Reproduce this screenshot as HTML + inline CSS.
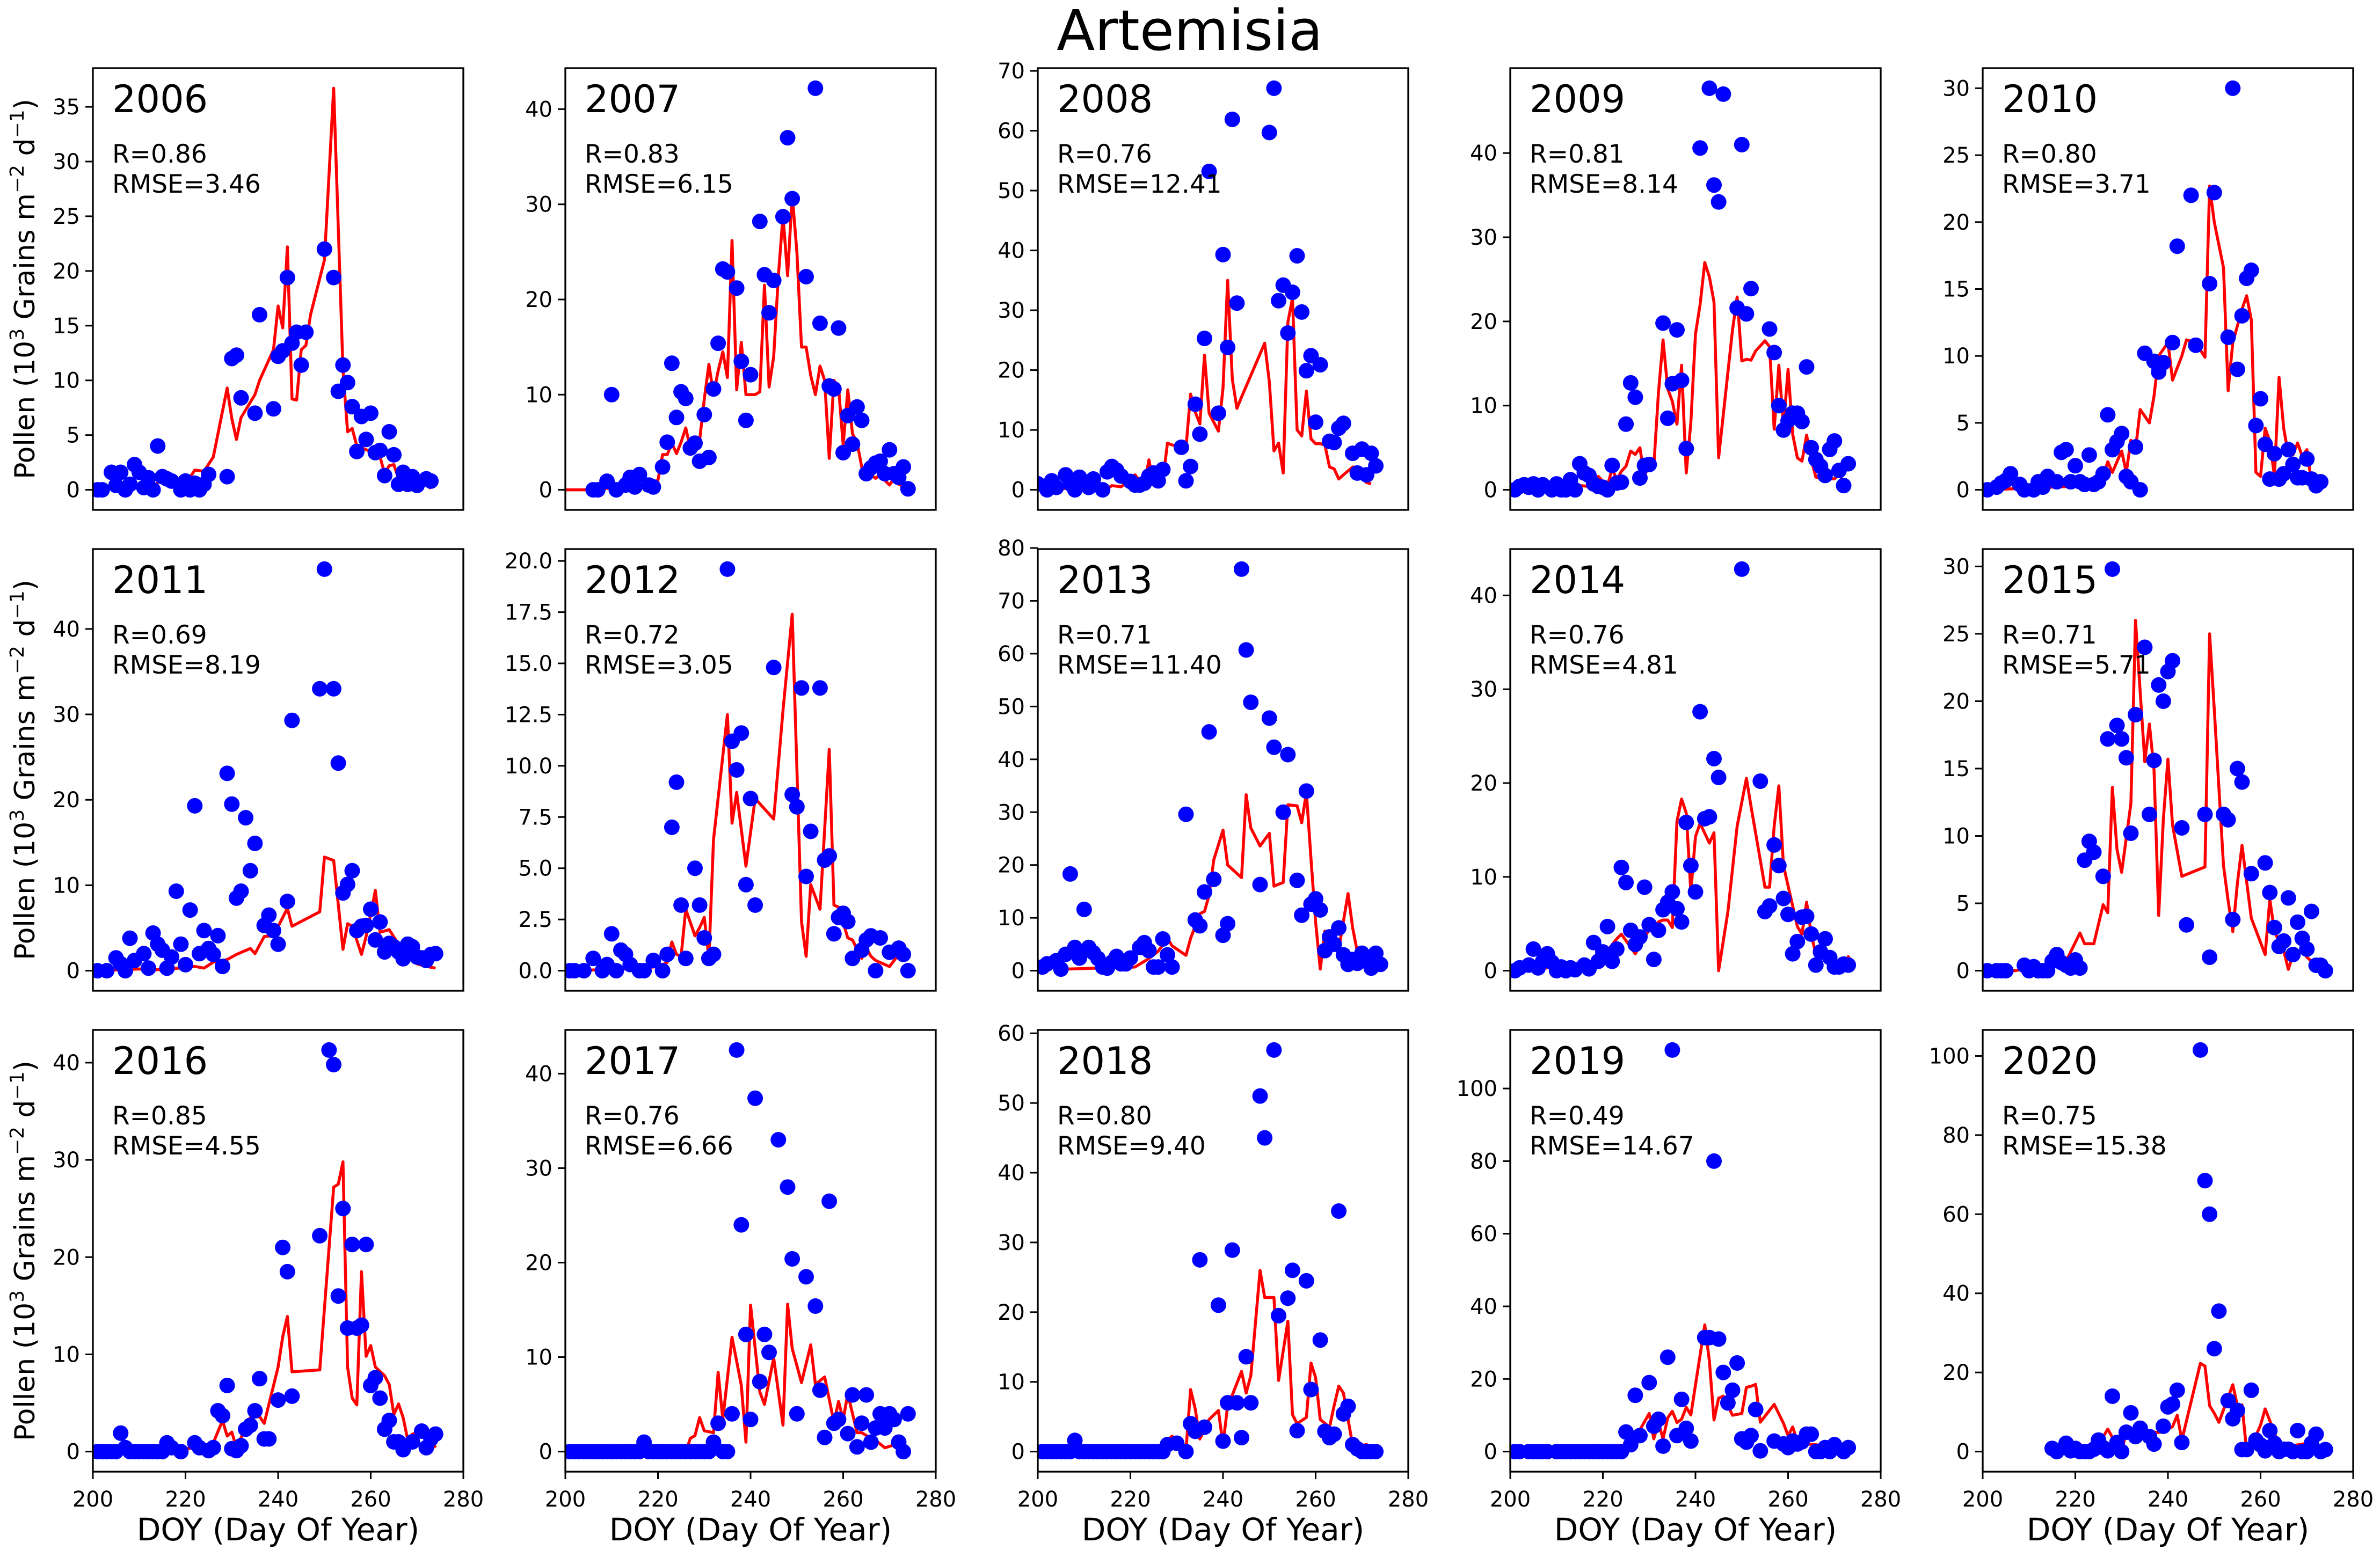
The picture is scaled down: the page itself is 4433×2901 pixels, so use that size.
<!DOCTYPE html>
<html>
<head>
<meta charset="utf-8">
<style>
html,body{margin:0;padding:0;background:#fff;}
svg{display:block;font-family:"DejaVu Sans","Liberation Sans",sans-serif;}
</style>
</head>
<body>
<svg id="chart" width="4433" height="2901" viewBox="0 0 4433 2901" xmlns="http://www.w3.org/2000/svg">
<rect x="0" y="0" width="4433" height="2901" fill="#fff"/>
<text x="2216" y="93" font-size="104" text-anchor="middle" fill="#000">Artemisia</text>
</svg>
<script>
// ---- data (DOY, pollen 10^3 grains m^-2 d^-1) ----
const obsDays2006=[201,202,204,205,206,207,208,209,210,211,212,213,214,215,216,217,219,220,221,222,223,224,225,229,230,231,232,235,236,239,240,241,242,243,244,245,246,250,252,253,254,255,256,257,258,259,260,261,262,263,264,265,266,267,268,269,270,272,273];
const obsVals2006=[0,0,1.6,0.4,1.6,0,0.5,2.3,1.6,0.2,1.1,0,4,1.2,1.0,0.8,0,0.8,0,0.6,0,0.5,1.4,1.2,12,12.3,8.4,7,16,7.4,12.2,12.7,19.4,13.4,14.4,11.4,14.4,22,19.4,9,11.4,9.8,7.6,3.5,6.7,4.6,7,3.4,3.6,1.3,5.3,3.2,0.5,1.6,0.5,1.2,0.4,1.0,0.8];
const modDays2006=[201,210,213,215,220,222,224,226,229,230,231,232,235,236,239,240,241,242,243,244,245,246,247,250,252,254,255,256,257,260,262,263,264,265,266,270,272,273];
const modVals2006=[0,0.5,0.3,1.0,0.5,1.8,1.7,3,9.3,6.5,4.6,6.6,8.7,10,12.8,16.8,14.8,22.2,8.3,8.2,12.8,13.2,16,21,36.7,11,5.3,5.6,4,3.5,3.0,1.5,2.2,2.3,1.0,0.8,0.5,0.1];

const obsDays2007=[206,207,209,210,211,213,214,215,216,218,219,221,222,223,224,225,226,227,228,229,230,231,232,233,234,235,237,238,239,240,242,243,244,245,247,248,249,252,254,255,257,258,259,260,261,262,263,264,265,266,267,268,269,270,271,272,273,274];
const obsVals2007=[0,0,0.9,10,0,0.5,1.3,0.3,1.6,0.5,0.3,2.4,5,13.3,7.6,10.3,9.6,4.4,4.9,3,7.9,3.4,10.6,15.4,23.2,22.9,21.2,13.5,7.3,12.1,28.2,22.6,18.6,22,28.7,37,30.6,22.4,42.2,17.5,10.9,10.6,17,3.9,7.8,4.8,8.7,7.3,1.7,2.3,2.8,3,1.7,4.2,1.7,1.3,2.4,0.1];
const modDays2007=[200,206,210,215,219,220,221,222,223,224,225,226,227,228,229,230,231,232,233,234,235,236,237,238,239,240,241,242,243,244,245,246,247,248,249,250,251,252,253,254,255,256,257,258,259,260,261,262,263,264,265,266,267,268,269,270,271,272,273];
const modVals2007=[0,0,0.2,0.5,0.8,1.0,3.7,3.7,4.9,3.8,5,6.5,4.3,5.5,5.2,9.5,13.2,10,12.5,14.5,11.8,26.2,10.5,15.5,10,10,10,10.3,21.5,10.8,14,22.5,28.8,22.5,31,25,15,15,12,10,13,11.5,3.3,11.5,10.8,4.7,10.5,5.9,5,2.4,1.2,1.6,1.2,1.6,1.0,0.5,1.2,0.6,0.3];

const obsDays2008=[200,202,203,204,206,207,208,209,211,212,214,215,216,217,218,220,221,222,223,224,225,226,227,231,232,233,234,235,236,237,239,240,241,242,243,250,251,252,253,254,255,256,257,258,259,260,261,263,264,265,266,268,269,270,271,272,273];
const obsVals2008=[1,0,1.5,0.4,2.5,1,0,2.1,0.4,1.8,0,3,3.9,3.3,2.3,1.4,0.8,0.8,1.1,2.3,2.8,1.5,3.4,7.1,1.5,3.9,14.3,9.3,25.3,53.2,12.8,39.3,23.8,61.9,31.2,59.7,67.1,31.6,34.2,26.2,33,39.1,29.7,19.9,22.4,11.3,20.9,8.1,7.9,10.3,11.1,6.1,2.8,6.8,2.5,6.1,4];
const modDays2008=[201,205,210,214,215,216,218,220,221,222,223,224,225,227,228,229,230,231,232,233,234,235,236,237,238,239,240,241,242,243,244,249,250,251,252,253,254,255,256,257,258,259,260,261,262,263,264,265,266,268,269,270,271,272];
const modVals2008=[0.5,0.2,0.3,0.5,0.2,0.7,0.5,1.8,2.5,1.5,0.8,5,1,1.5,7.8,7.5,7.3,7.1,7,16,13,11,22.5,12.8,11.3,9.8,17,35,18.5,13.6,15.5,24.5,18,6.5,7.8,2.8,28,32,10,9,16.5,8.5,7.7,7.7,7.5,3.8,3.5,1.8,2.5,3.8,3.8,2,1.2,1];

const obsDays2009=[201,202,203,204,205,206,207,209,210,211,212,213,214,215,216,217,218,219,220,221,222,223,224,225,226,227,228,229,230,233,234,235,236,237,238,241,243,244,245,246,249,250,251,252,256,257,258,259,260,261,262,263,264,265,266,267,268,269,270,271,272,273];
const obsVals2009=[0,0.4,0.6,0.3,0.7,0,0.6,0,0.7,0,0,1.2,0,3.1,2,1.7,0.7,0.4,0.3,0,2.9,0.8,0.9,7.8,12.7,11,1.4,2.9,3,19.8,8.5,12.6,19,13,4.9,40.6,47.7,36.2,34.2,47,21.6,41,20.9,23.9,19.1,16.3,10,7.1,8.2,9.1,9.1,8.1,14.6,5,3.6,2.8,1.7,4.8,5.8,2.3,0.5,3.1];
const modDays2009=[201,210,214,215,217,218,219,220,221,222,223,224,225,226,227,228,229,230,231,232,233,234,235,236,237,238,239,240,241,242,243,244,245,248,249,250,251,252,253,255,256,257,258,259,260,261,262,263,264,265,266,268,270,271,272];
const modVals2009=[0,0.2,0.2,0.5,0.4,0.5,1.6,1,0.5,2.5,1.2,2.2,2.8,4.6,4.2,5,1.5,3.5,2.8,11.5,17.8,12,10.5,7.8,14.8,2,8,18.5,22,27,25.3,22.3,3.8,19,22.9,15.3,15.5,15.4,16.5,17.7,17,7.2,14.8,7.5,14.3,6.6,3.8,3.4,6.5,3.6,1.5,1.3,1.3,1.8,1];

const obsDays2010=[201,203,204,205,206,208,209,211,212,213,214,216,217,218,219,220,221,222,223,224,225,226,227,228,229,230,231,232,233,234,235,237,238,239,241,242,245,246,249,250,253,254,255,256,257,258,259,260,261,262,263,264,265,266,267,268,269,270,271,272,273];
const obsVals2010=[0,0.2,0.5,0.7,1.2,0.4,0,0,0.6,0.2,1.0,0.6,2.8,3.0,0.6,1.8,0.6,0.4,2.6,0.4,0.6,1.2,5.6,3,3.6,4.2,1.0,0.6,3.2,0,10.2,9.6,8.8,9.5,11,18.2,22,10.8,15.4,22.2,11.4,30,9,13,15.8,16.4,4.8,6.8,3.4,0.8,2.7,0.8,1.2,3.0,1.9,0.9,0.9,2.3,0.8,0.3,0.6];
const modDays2010=[201,215,222,226,227,228,230,231,232,233,234,236,237,238,240,241,243,244,246,248,249,250,252,253,254,256,257,258,259,260,261,262,263,264,265,266,267,268,269,270,271];
const modVals2010=[0,0.2,0.3,1,2.1,1.3,2.9,1.3,3.7,3,6,5,7,10,11,8.2,10,11.2,11,9.9,22.7,20,16.6,7.4,11,13.5,14.5,12.7,1.3,1,4.6,3.6,1,8.4,4.6,2.6,2.6,3.5,2.5,3,0.5];

const obsDays2011=[201,203,205,206,207,208,209,211,212,213,214,215,216,217,218,219,220,221,222,223,224,225,226,227,228,229,230,231,232,233,234,235,237,238,239,240,242,243,249,250,252,253,254,255,256,257,258,259,260,261,262,263,264,265,266,267,268,269,270,271,272,273,274];
const obsVals2011=[0,0,1.5,0.8,0,3.8,1.2,2,0.3,4.4,3.1,2.4,0.3,1.6,9.3,3.1,0.7,7.1,19.3,2,4.7,2.6,1.9,4.1,0.5,23.1,19.5,8.5,9.3,17.9,11.7,14.9,5.3,6.5,4.7,3.1,8.1,29.3,33,47,33,24.3,9.1,10.1,11.7,4.7,5.2,5.3,7.2,3.6,5.7,2.2,3.2,2.8,2.2,1.4,3.1,2.8,1.6,1.5,1.2,1.9,2.0];
const modDays2011=[201,210,215,222,224,226,229,231,234,235,237,239,242,243,249,250,252,254,255,256,258,259,260,261,262,264,266,268,270,272,274];
const modVals2011=[0,0.2,0.1,0.5,0.3,1,1.3,1.9,2.6,2,4,4.1,7.3,5.2,6.9,13.3,12.9,2.5,5.5,5.2,1.9,4,6.6,9.4,4.5,4.8,3.1,1.7,0.8,0.5,0.3];

const obsDays2012=[201,202,204,206,208,209,210,211,212,213,214,216,217,219,221,222,223,224,225,226,228,229,230,231,232,235,236,237,238,239,240,241,245,249,250,251,252,253,255,256,257,258,259,260,261,262,264,265,266,267,268,270,272,273,274];
const obsVals2012=[0,0,0,0.6,0,0.3,1.8,0,1,0.8,0.3,0,0,0.5,0,0.8,7,9.2,3.2,0.6,5,3.2,1.6,0.6,0.8,19.6,11.2,9.8,11.6,4.2,8.4,3.2,14.8,8.6,8,13.8,4.6,6.8,13.8,5.4,5.6,1.8,2.6,2.8,2.4,0.6,1,1.5,1.7,0,1.6,0.9,1.1,0.8,0];
const modDays2012=[201,215,220,222,223,224,225,226,228,229,230,231,232,235,236,237,239,241,245,247,249,251,252,253,255,257,258,259,261,262,264,265,266,267,270,272,274];
const modVals2012=[0,0.1,0.2,0.4,1.4,0.8,0.7,3,1.7,2.1,2.6,0.6,6.4,12.5,7.2,8.7,5.1,8.4,7.4,12.7,17.4,2.4,0.7,4.2,3,10.8,3.2,3.1,1.6,1.5,0.6,1.1,0.7,0.5,0.2,0.8,0.5];

const obsDays2013=[201,202,204,205,206,207,208,209,210,211,212,213,214,215,216,217,218,219,220,222,223,224,225,226,227,228,229,232,234,235,236,237,238,240,241,244,245,246,248,250,251,253,254,256,257,258,259,260,261,262,263,264,265,266,267,268,269,270,271,272,273,274];
const obsVals2013=[0.7,1.3,1.9,0.3,3.1,18.3,4.4,2.4,11.6,4.4,3.4,2.3,0.7,0.5,1.6,2.7,1.3,1.3,2.4,4.4,5.3,3.8,0.7,0.7,6,3,0.7,29.6,9.6,8.5,14.9,45.2,17.3,6.7,8.9,76,60.7,50.8,16.3,47.8,42.3,30,40.9,17.1,10.5,34,12.6,13.6,11.5,3.8,6.4,5,8.1,3,1.2,2.1,1.4,3.3,1.9,0.5,3.3,1.2];
const modDays2013=[206,221,224,226,228,229,232,233,235,236,237,238,240,241,244,245,246,248,250,251,253,254,256,257,258,259,260,261,262,263,265,267,268,269,270,272,274];
const modVals2013=[0.3,0.7,2.3,3.7,6.1,4.7,2.9,6.1,10.8,11.2,14.3,21,26.6,20,17.6,33.3,27,23.6,26,16,16.7,31.4,31.2,28,33.8,21.1,9.2,0.3,7.5,4.2,4.1,14.6,8.1,3.6,2.7,1.8,0.7];

const obsDays2014=[201,202,204,205,206,207,208,209,210,211,212,213,214,216,217,218,219,220,221,222,223,224,225,226,227,228,229,230,231,232,233,234,235,236,237,238,239,240,241,242,243,244,245,250,254,255,256,257,258,259,260,261,262,263,264,265,266,267,268,269,270,271,272,273];
const obsVals2014=[0,0.3,0.6,2.3,0.3,1,1.8,0.9,0,0.4,0,0.3,0.1,0.6,0.2,3,1,2,4.7,1,2.3,11,9.4,4.3,2.8,3.6,8.9,4.9,1.2,4.3,6.5,7.3,8.4,6.6,5.2,15.8,11.2,8.4,27.6,16.2,16.4,22.6,20.6,42.8,20.2,6.3,6.9,13.4,11.2,7.7,6,1.8,3.1,5.7,5.8,3.9,0.6,2,3.4,1.4,0.4,0.4,0.7,0.6];
const modDays2014=[201,215,220,223,224,227,228,230,231,232,233,234,235,236,237,238,239,240,241,243,244,245,247,249,251,252,255,256,257,258,259,262,263,264,265,266,269,272,273,274];
const modVals2014=[0.1,0.5,1.5,3.4,3.9,1.8,2.7,4.4,4.6,5.2,5.4,5.4,4.6,15.9,18.3,16.8,8.4,14.3,15.7,13.6,14.7,0,6.3,15.4,20.5,17.5,8.9,8.9,15.4,19.7,11.2,4.7,3.9,7.3,3.9,1.7,1,0.6,1.5,0.6];

const obsDays2015=[201,203,204,205,209,210,211,212,213,214,215,216,217,218,219,220,221,222,223,224,226,227,228,229,230,231,232,233,235,236,237,238,239,240,241,243,244,248,249,252,253,254,255,256,258,261,262,263,264,265,266,267,268,269,270,271,272,273,274];
const obsVals2015=[0,0,0,0,0.4,0,0.3,0,0,0,0.7,1.2,0.6,0.4,0.2,0.8,0.2,8.2,9.6,8.8,7,17.2,29.8,18.2,17.2,15.8,10.2,19,24,11.6,15.6,21.2,20,22.2,23,10.6,3.4,11.6,1,11.6,11.2,3.8,15,14,7.2,8,5.8,3.2,1.8,2.2,5.4,1.2,3.6,2.4,1.6,4.4,0.4,0.4,0];
const modDays2015=[201,207,218,221,222,224,226,227,228,229,230,232,233,234,235,236,237,238,239,240,241,243,248,249,250,252,253,254,255,256,258,261,262,263,265,266,267,269,270,272,274];
const modVals2015=[0,0,0.7,2.8,2,2,4.9,4.3,13.6,9,7.3,12.4,26,20.7,15.5,18.3,14.9,4.1,11.2,15.7,10.8,7,7.7,25,19.4,7.8,5.2,2.9,6.5,9.3,3.9,1.2,5.3,2.9,1.5,0.1,1.2,1.5,1,0.4,0];

const obsDays2016=[201,202,203,204,205,206,207,208,209,210,211,212,213,214,215,216,217,219,222,223,225,226,227,228,229,230,231,232,233,234,235,236,237,238,240,241,242,243,249,251,252,253,254,255,256,257,258,259,260,261,262,263,264,265,266,267,269,271,272,273,274];
const obsVals2016=[0,0,0,0,0,1.9,0.4,0,0,0,0,0,0,0,0,0.9,0.4,0,0.9,0.4,0.1,0.4,4.2,3.7,6.8,0.3,0.1,0.6,2.3,2.7,4.2,7.5,1.3,1.3,5.3,21,18.5,5.7,22.2,41.3,39.8,16,25,12.7,21.3,12.7,13,21.3,6.8,7.6,5.5,2.3,3.2,1,1,0.2,1,2.1,0.4,1.3,1.8];
const modDays2016=[201,215,225,226,228,229,230,231,234,236,237,240,241,242,243,249,252,253,254,255,256,257,258,259,260,261,263,264,265,266,267,268,269,271,273,274];
const modVals2016=[0,0.1,0.5,0.9,3.2,1.6,2,0.4,3.5,3.6,2.9,8.7,11.8,13.9,8.2,8.4,27.2,27.5,29.8,8.7,5.5,4.8,18.5,9.8,10.9,8.7,7.8,6.9,3.8,4.9,3.5,1.2,1.8,2.1,1.2,0.4];

const obsDays2017=[201,202,203,204,205,206,207,208,209,210,211,212,213,214,215,216,217,218,219,220,221,222,223,224,225,226,227,228,229,230,231,232,233,234,235,236,237,238,239,240,241,242,243,244,246,248,249,250,252,254,255,256,257,258,259,261,262,263,264,265,266,267,268,269,270,271,272,273,274];
const obsVals2017=[0,0,0,0,0,0,0,0,0,0,0,0,0,0,0,0,1,0,0,0,0,0,0,0,0,0,0,0,0,0,0,1,3,0,0,4,42.5,24,12.4,3.4,37.4,7.4,12.4,10.5,33,28,20.4,4,18.5,15.4,6.5,1.5,26.5,3,3.4,1.9,6,0.5,3,6,1,2.5,4,2.5,4,3.4,1,0,4];
const modDays2017=[201,226,227,228,229,230,231,232,233,234,236,238,239,240,242,243,245,247,248,249,251,253,254,256,258,259,260,261,263,264,266,267,269,271,272];
const modVals2017=[0,0,1.4,1.7,3.6,2.2,2.1,2,8.4,3.4,12.1,7,1,15.5,6.3,5,9.9,2.8,15.6,10.9,7.3,11.3,7.1,7.9,3.1,5.3,3.4,6.1,2,2,1.4,1.2,0.4,0.7,0.1];

const obsDays2018=[201,202,203,204,205,206,207,208,209,210,211,212,213,214,215,216,217,218,219,220,221,222,223,224,225,226,227,228,230,232,233,234,235,236,239,240,241,242,243,244,245,246,248,249,251,252,254,255,256,258,259,261,262,263,264,265,266,267,268,269,270,271,272,273];
const obsVals2018=[0,0,0,0,0,0,0,1.6,0,0,0,0,0,0,0,0,0,0,0,0,0,0,0,0,0,0,0,1,1.2,0,4,2.9,27.5,3.5,21,1.5,7,28.9,7,2,13.6,7,51,45,57.6,19.5,22,26,3,24.5,8.9,16,2.9,2,2.5,34.5,5.4,6.5,1,0.4,0,0,0,0];
const modDays2018=[201,225,229,232,233,234,235,237,239,240,241,242,244,245,246,248,249,251,252,254,255,256,258,259,260,261,263,264,265,266,268,270,271,273];
const modVals2018=[0,0,2.2,0.2,8.9,6.1,1.8,4.6,5.9,1,6.6,8.1,11.5,8.4,10.9,26,22.1,22.1,10.2,18.7,5.3,4,4.9,12.7,10.6,4.6,3.5,6.6,9.4,8.4,0.9,0.9,1,0];

const obsDays2019=[201,202,204,205,206,207,208,210,211,212,213,214,215,216,217,218,219,220,221,222,223,224,225,226,227,228,230,231,232,233,234,235,236,237,238,239,242,243,244,245,246,247,248,249,250,251,252,253,254,257,259,260,261,262,263,264,265,266,267,268,269,270,272,273];
const obsVals2019=[0,0,0,0,0,0,0,0,0,0,0,0,0,0,0,0,0,0,0,0,0,0,5.4,1.9,15.5,4.4,19,7,8.9,1.5,26,110.6,4.4,14.4,6.4,2.9,31.4,31.4,80,31,21.8,13.4,16.9,24.4,3.5,2.6,4.4,11.6,0.2,2.9,2.1,1.1,2.9,2.1,2.7,4.8,4.8,0,0,1.1,0,1.9,0,1.1];
const modDays2019=[201,224,226,228,230,231,232,233,234,235,236,237,238,239,242,243,244,245,246,248,250,251,252,253,254,257,259,260,261,262,264,266,269,272];
const modVals2019=[0,0,4,6,10.5,3.5,8,3.5,9.3,11.1,8,8.9,12.2,10.1,34.9,25,8.7,14.7,15.3,10,10.5,17.7,18,18.5,8.1,13,7.8,4.4,6.8,2.7,2.1,1.9,0.9,0.4];

const obsDays2020=[215,216,218,219,220,221,222,223,224,225,226,227,228,229,230,231,232,233,234,236,237,239,240,241,242,243,247,248,249,250,251,253,254,255,256,257,258,259,260,261,262,263,264,265,266,267,268,269,270,271,272,273,274];
const obsVals2020=[0.8,0,2.1,0.2,0.8,0,0,0,0.6,2.9,1,0.2,14,2.3,0,4.9,9.8,3.8,5.9,3.8,1.9,6.4,11.3,12,15.5,2.3,101.5,68.5,60,26,35.5,12.9,8.3,10.4,0.5,0.5,15.5,2.9,1.7,0.2,5.3,2.1,0,0.6,0.6,0,5.3,0,0,2.1,4.4,0,0.5];
const modDays2020=[215,219.6,225,227,228,230,231,236,238,241,242,243,247,248,249,250,251,254,255,256,257,258,259,260,261,262,263,264,266,268,270,272,274];
const modVals2020=[0.8,0.2,1.7,5.7,3.6,0.2,4.8,5.1,4.8,6.3,9.2,2.9,22.3,21.6,11.6,9.7,7.4,16.9,11.6,11.8,0.2,0.2,4,6.7,10.8,7.8,4.4,2.5,1.4,1.7,2.1,1,0.5];

const years=[2006,2007,2008,2009,2010,2011,2012,2013,2014,2015,2016,2017,2018,2019,2020];
const rLabels=["R=0.86","R=0.83","R=0.76","R=0.81","R=0.80","R=0.69","R=0.72","R=0.71","R=0.76","R=0.71","R=0.85","R=0.76","R=0.80","R=0.49","R=0.75"];
const rmseLabels=["RMSE=3.46","RMSE=6.15","RMSE=12.41","RMSE=8.14","RMSE=3.71","RMSE=8.19","RMSE=3.05","RMSE=11.40","RMSE=4.81","RMSE=5.71","RMSE=4.55","RMSE=6.66","RMSE=9.40","RMSE=14.67","RMSE=15.38"];
const yTicks=[[0,5,10,15,20,25,30,35],[0,10,20,30,40],[0,10,20,30,40,50,60,70],[0,10,20,30,40],[0,5,10,15,20,25,30],
 [0,10,20,30,40],[0,2.5,5,7.5,10,12.5,15,17.5,20],[0,10,20,30,40,50,60,70,80],[0,10,20,30,40],[0,5,10,15,20,25,30],
 [0,10,20,30,40],[0,10,20,30,40],[0,10,20,30,40,50,60],[0,20,40,60,80,100],[0,20,40,60,80,100]];
const xTicks=[200,220,240,260,280];

const obsDays=[obsDays2006,obsDays2007,obsDays2008,obsDays2009,obsDays2010,obsDays2011,obsDays2012,obsDays2013,obsDays2014,obsDays2015,obsDays2016,obsDays2017,obsDays2018,obsDays2019,obsDays2020];
const obsVals=[obsVals2006,obsVals2007,obsVals2008,obsVals2009,obsVals2010,obsVals2011,obsVals2012,obsVals2013,obsVals2014,obsVals2015,obsVals2016,obsVals2017,obsVals2018,obsVals2019,obsVals2020];
const modDays=[modDays2006,modDays2007,modDays2008,modDays2009,modDays2010,modDays2011,modDays2012,modDays2013,modDays2014,modDays2015,modDays2016,modDays2017,modDays2018,modDays2019,modDays2020];
const modVals=[modVals2006,modVals2007,modVals2008,modVals2009,modVals2010,modVals2011,modVals2012,modVals2013,modVals2014,modVals2015,modVals2016,modVals2017,modVals2018,modVals2019,modVals2020];

// ---- layout ----
const NS="http://www.w3.org/2000/svg";
const svg=document.getElementById('chart');
const colLeft=[173,1053,1933,2813,3693];
const rowTop=[127,1023,1919];
const PW=690, PH=823;
function mk(tag,attrs,parent){const e=document.createElementNS(NS,tag);for(const k in attrs)e.setAttribute(k,attrs[k]);(parent||svg).appendChild(e);return e;}

years.forEach((yr,i)=>{
  const c=i%5, r=Math.floor(i/5);
  const L=colLeft[c], T=rowTop[r];
  const M=Math.max(Math.max(...obsVals[i]),Math.max(...modVals[i]));
  const ymin=-0.05*M, ymax=1.05*M;
  const xs=d=>L+(d-200)/80*PW;
  const ys=v=>T+PH-(v-ymin)/(ymax-ymin)*PH;
  const g=mk('g',{});
  
  
  const clipId='clip'+yr;
  const cp=mk('clipPath',{id:clipId},g);
  mk('rect',{x:L,y:T,width:PW,height:PH},cp);
  const pts=modDays[i].map((d,k)=>xs(d).toFixed(1)+','+ys(modVals[i][k]).toFixed(1)).join(' ');
  const line=mk('polyline',{points:pts,fill:'none',stroke:'#ff0000','stroke-width':5.5,'stroke-linejoin':'round','clip-path':'url(#'+clipId+')'},g);
  
  
  const dg=mk('g',{fill:'#0000ff','clip-path':'url(#'+clipId+')'},g);
  
  
  obsDays[i].forEach((d,k)=>{
    const dot=mk('circle',{cx:xs(d).toFixed(1),cy:ys(obsVals[i][k]).toFixed(1),r:14.5},dg);
    
    
  });
  const fr=mk('rect',{x:L,y:T,width:PW,height:PH,fill:'none',stroke:'#000','stroke-width':3.3},g);
  
  
  yTicks[i].forEach(t=>{
    const y=ys(t);
    const tk=mk('line',{x1:L,x2:L-14,y1:y,y2:y,stroke:'#000','stroke-width':3},g);
    
    
    const lb=mk('text',{x:L-24,y:y+14,'font-size':40,'text-anchor':'end',fill:'#000'},g);
    lb.textContent=(yr===2012)?t.toFixed(1):String(t);
    
    
  });
  if(r===2){
    xTicks.forEach(t=>{
      const x=xs(t);
      const tk=mk('line',{x1:x,x2:x,y1:T+PH,y2:T+PH+14,stroke:'#000','stroke-width':3},g);
      
      
      const lb=mk('text',{x:x,y:T+PH+65,'font-size':40,'text-anchor':'middle',fill:'#000'},g);
      lb.textContent=String(t);
      
      
    });
    const xl=mk('text',{x:L+PW/2,y:2870,'font-size':58,'text-anchor':'middle',fill:'#000'},g);
    xl.textContent='DOY (Day Of Year)';
    
    
  }
  const yt=mk('text',{x:L+36,y:T+82,'font-size':70,fill:'#000'},g);
  yt.textContent=String(yr);
  
  
  const rt=mk('text',{x:L+36,y:T+176,'font-size':47,fill:'#000'},g);
  rt.textContent=rLabels[i];
  
  
  const et=mk('text',{x:L+36,y:T+232,'font-size':47,fill:'#000'},g);
  et.textContent=rmseLabels[i];
  
  
  if(c===0){
    const cy=T+PH/2;
    const t=mk('text',{x:0,y:0,'font-size':52,'text-anchor':'middle',fill:'#000',transform:'translate(64,'+cy+') rotate(-90)'},g);
    
    
    t.innerHTML='Pollen (10<tspan font-size="36" dy="-20">3</tspan><tspan dy="20"> Grains m</tspan><tspan font-size="36" dy="-20">−2</tspan><tspan dy="20"> d</tspan><tspan font-size="36" dy="-20">−1</tspan><tspan dy="20">)</tspan>';
  }
});
</script>
</body>
</html>
